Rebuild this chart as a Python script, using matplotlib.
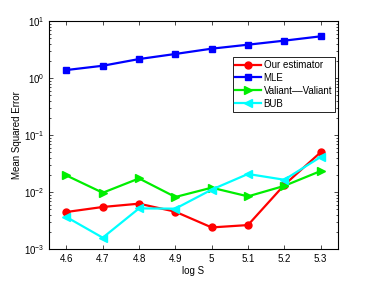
import matplotlib
matplotlib.use("Agg")
import matplotlib.pyplot as plt
from matplotlib.ticker import LogLocator, NullFormatter

x = [4.6, 4.7, 4.8, 4.9, 5.0, 5.1, 5.2, 5.3]
ours = [0.00446, 0.00546, 0.00624, 0.00451, 0.00239, 0.00263, 0.0133, 0.0496]
mle = [1.38, 1.64, 2.15, 2.64, 3.27, 3.84, 4.52, 5.38]
valiant = [0.0195, 0.0097, 0.0173, 0.00817, 0.0119, 0.00838, 0.0128, 0.0233]
bub = [0.00364, 0.00158, 0.00516, 0.0051, 0.011, 0.0207, 0.0164, 0.0411]
labels = ["Our estimator", "MLE", "Valiant\u2013\u2013Valiant", "BUB"]
xticks = [4.6, 4.7, 4.8, 4.9, 5.0, 5.1, 5.2, 5.3]
xticklabels = ["4.6", "4.7", "4.8", "4.9", "5", "5.1", "5.2", "5.3"]

plt.rcParams['font.family'] = ['Liberation Sans', 'DejaVu Sans']
fig = plt.figure(figsize=(3.74, 2.81), dpi=100)
ax = fig.add_axes([49/374, 1-249/281, (338-49)/374, (249-21)/281])

lw = 1.6
ms = 5
ax.plot(x, ours, color='#ff0000', marker='o', lw=lw, ms=ms, label=labels[0])
ax.plot(x, mle, color='#0000ff', marker='s', lw=lw, ms=ms, label=labels[1])
ax.plot(x, valiant, color='#00ee00', marker='>', lw=lw, ms=ms+1, label=labels[2])
ax.plot(x, bub, color='#00ffff', marker='<', lw=lw, ms=ms+1, label=labels[3])

ax.set_yscale('log')
ax.set_ylim(1e-3, 1e1)
ax.set_xlim(4.552, 5.348)
ax.set_xticks(xticks)
ax.set_xticklabels(xticklabels)
ax.yaxis.set_minor_locator(LogLocator(base=10, subs=range(2, 10)))
ax.yaxis.set_minor_formatter(NullFormatter())
ax.tick_params(which='both', direction='in', top=True, right=True, labelsize=7)
ax.tick_params(which='major', length=3, width=0.5)
ax.tick_params(which='minor', length=1.5, width=0.5)
for s in ax.spines.values():
    s.set_linewidth(0.8)

ax.set_xlabel("log S", fontsize=7)
ax.xaxis.set_label_coords(0.5, -0.075)
ax.set_ylabel("Mean Squared Error", fontsize=7)
ax.yaxis.set_label_coords(-0.095, 0.5)

leg = ax.legend(loc='upper right', bbox_to_anchor=(0.99, 0.842), fontsize=7,
                frameon=True, fancybox=False, edgecolor='black', framealpha=1,
                borderpad=0.3, labelspacing=0.3, handlelength=2.6, handletextpad=0.3,
                borderaxespad=0)
leg.get_frame().set_linewidth(0.6)

fig.savefig("out.png", dpi=100)
